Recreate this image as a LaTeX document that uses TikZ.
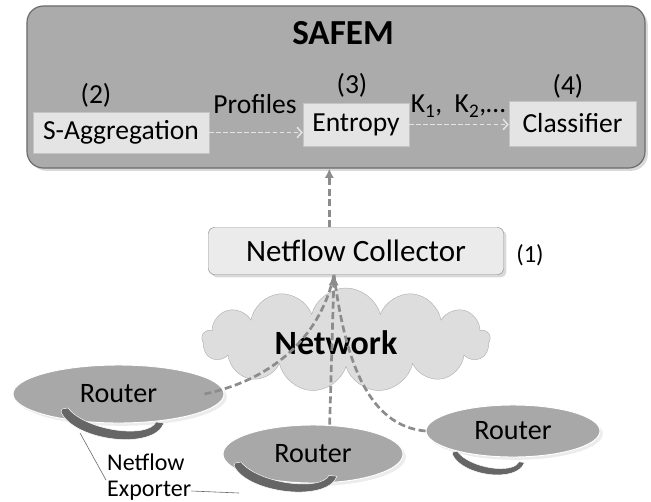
\documentclass[tikz,border=0pt]{standalone}
\usepackage{fontspec}
\setmainfont{Carlito}
\usetikzlibrary{shapes.geometric,shapes.symbols,arrows.meta,shadows}

\definecolor{safemgray}{HTML}{ABABAB}
\definecolor{safemline}{HTML}{6B6B6B}
\definecolor{boxgray}{HTML}{E4E4E4}
\definecolor{boxline}{HTML}{C4C4C4}
\definecolor{collgray}{HTML}{EBEBEB}
\definecolor{cloudgray}{HTML}{DDDDDD}
\definecolor{cloudline}{HTML}{B2B2B2}
\definecolor{routergray}{HTML}{A8A8A8}
\definecolor{feedgray}{HTML}{8C8C8C}
\definecolor{hookgray}{HTML}{666666}

\tikzset{
  stage/.style={draw=boxline, fill=boxgray, font=\fontsize{23.5}{26}\selectfont, inner sep=0pt},
  numlabel/.style={font=\fontsize{23.5}{26}\selectfont},
  flowarrow/.style={draw=boxgray, line width=1.3pt, dash pattern=on 4pt off 2pt, -{Straight Barb[length=4pt,width=9pt]}},
  feed/.style={draw=feedgray, line width=2.3pt, dash pattern=on 6pt off 3pt},
  router/.style={ellipse, draw=white, line width=0.8pt, fill=routergray, inner sep=0pt,
                 font=\fontsize{24}{28}\selectfont, drop shadow={opacity=0.15}},
  exporter/.pic={
    \filldraw[hookgray, draw=white, line width=0.4pt] (0,0) -- (6,-1) .. controls (24,22) and (86,30) .. (94,13)
      -- (102,14) .. controls (92,42) and (12,32) .. (-1,3) -- cycle;
  }
}

\begin{document}
\begin{tikzpicture}[x=0.03cm, y=-0.03cm]
  \useasboundingbox (0,0) rectangle (651,501);

  % SAFEM block
  \node[draw=safemline, line width=1pt, fill=safemgray, rounded corners=14pt,
        minimum width=18.54cm, minimum height=4.86cm, drop shadow={opacity=0.3}] (safem) at (336,87) {};
  \node[font=\fontsize{30}{34}\selectfont\bfseries] (title) at (343,33) {SAFEM};

  % Stages inside SAFEM
  \node[stage, minimum width=5.28cm, minimum height=1.23cm] (agg) at (121,132.5) {S-Aggregation};
  \node[stage, minimum width=3.18cm, minimum height=1.29cm] (ent) at (356,124.5) {Entropy};
  \node[stage, minimum width=3.81cm, minimum height=1.35cm] (cls) at (572.5,123.5) {Classifier};
  \node[numlabel] (n2) at (96,95) {(2)};
  \node[numlabel] (n3) at (352,85) {(3)};
  \node[numlabel] (n4) at (568,86) {(4)};
  \node[numlabel] (prof) at (255,104) {Profiles};
  \node[numlabel] (keys) at (458,106) {K\textsubscript{1},\ \ K\textsubscript{2},\dots};
  \draw[flowarrow] (agg.east) -- (agg.east -| ent.west);
  \draw[flowarrow] (ent.east) -- (ent.east -| cls.west);

  % Collector
  \node[draw=feedgray, fill=collgray, rounded corners=5pt, minimum width=8.85cm, minimum height=1.41cm,
        font=\fontsize{26.5}{30}\selectfont, drop shadow={opacity=0.3}] (coll) at (356,251) {Netflow Collector};
  \node[font=\fontsize{21}{24}\selectfont] (n1) at (530,255) {(1)};
  \draw[feed, line width=2pt, -{Latex[length=8pt,width=8pt]}] ([xshift=-0.8cm]coll.north) -- ([xshift=-0.8cm]coll.north |- safem.south);

  % Network cloud
  \node[cloud, cloud puffs=13, aspect=2.8, draw=cloudline, fill=cloudgray, minimum width=8.64cm,
        minimum height=3.12cm] (net) at (346,340) {};
  \node[font=\fontsize{29}{32}\selectfont\bfseries] (netlabel) at (336,343) {Network};

  % Routers
  \node[router, minimum width=6.33cm, minimum height=1.74cm] (rl) at (118.5,394) {Router};
  \node[router, minimum width=5.4cm, minimum height=1.74cm] (rm) at (313,454) {Router};
  \node[router, minimum width=5.22cm, minimum height=1.56cm] (rr) at (513,431) {Router};

  % Exporters
  \pic at (62,409) {exporter};
  \pic[yscale=0.95] at (235,463) {exporter};
  \pic[xscale=0.7, yscale=0.75] at (453,452) {exporter};

  % Feeds into the collector
  \coordinate (in) at ([xshift=-0.66cm]coll.south);
  \draw[feed] ([xshift=-0.6cm]rl.east) .. controls (280,378) and (322,330) .. (in);
  \draw[feed, -{Latex[length=9pt,width=9pt]}] ([xshift=0.5cm]rm.north) -- (in);
  \draw[feed] (rr.west) .. controls (368,426) and (345,360) .. (in);

  % Exporter label
  \node[font=\fontsize{20.5}{24}\selectfont, anchor=west, inner sep=0pt] (expa) at (107,462) {Netflow};
  \node[font=\fontsize{20.5}{24}\selectfont, anchor=west, inner sep=0pt] (expb) at (107,491) {Exporter};
  \coordinate (hookl) at (80,433);
  \coordinate (hookm) at (239,493);
  \draw[hookgray, line width=0.5pt] (hookl) -- (106,480);
  \draw[hookgray, line width=0.5pt] (expb.east) -- (hookm);
\end{tikzpicture}
\end{document}
